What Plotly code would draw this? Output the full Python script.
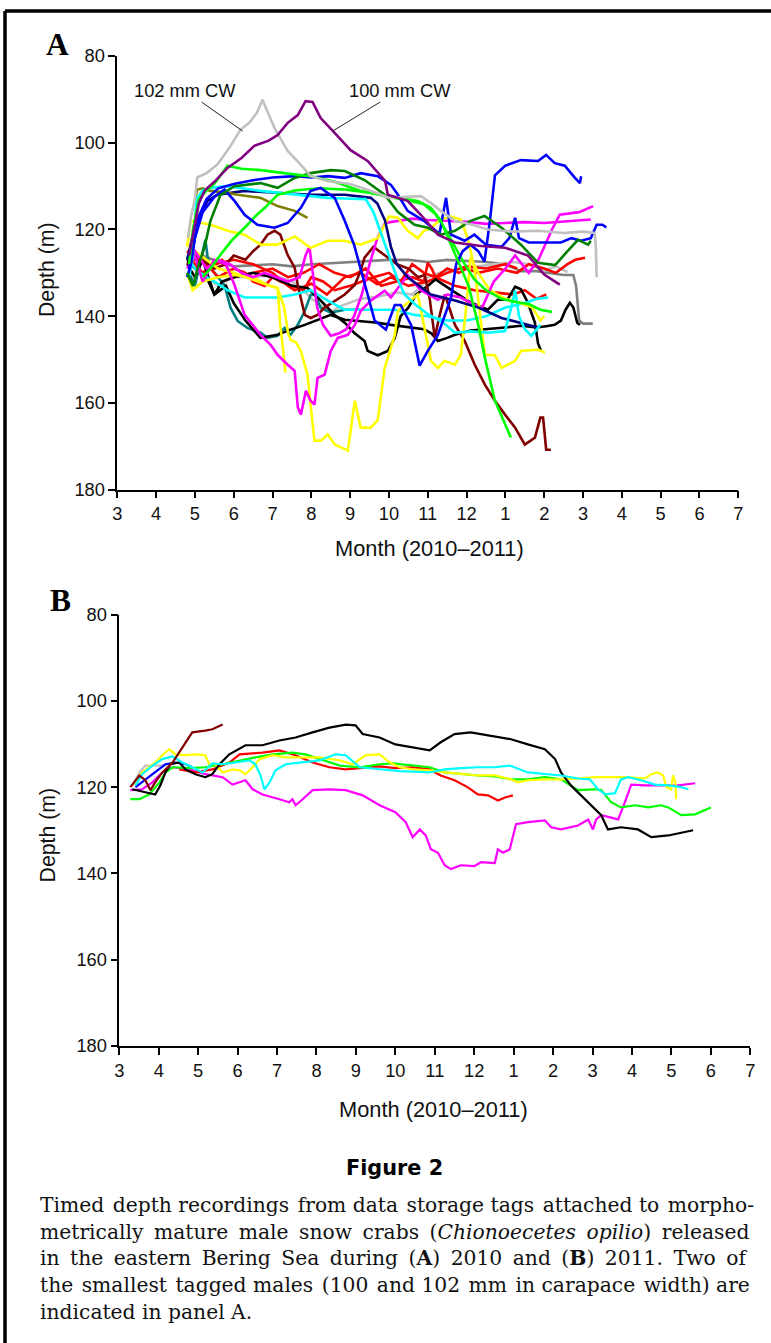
import plotly.graph_objects as go

# ---------------- axis / tick data ----------------
MONTH_TICKS = list(range(3, 20))
MONTH_TICK_LABELS = ["3", "4", "5", "6", "7", "8", "9", "10", "11", "12",
                     "1", "2", "3", "4", "5", "6", "7"]
DEPTH_TICKS = [80, 100, 120, 140, 160, 180]

# ---------------- Panel A (2010) ----------------
A_GRAY102_M = [4.82, 4.9, 5.0, 5.06, 5.3, 5.58, 5.9, 6.17, 6.4, 6.6, 6.74, 6.9, 7.05, 7.39, 7.72, 7.98, 8.42, 9.0, 9.5,
               10.0, 10.5, 10.82, 11.1, 11.33, 11.7, 12.2, 12.55, 13.2, 13.84, 14.5, 15.0, 15.3, 15.33, 15.35]
A_GRAY102_D = [122, 117, 113, 108, 107, 105, 101, 97, 95.4, 93, 90.1, 93.5, 96.6, 101.9, 105, 107.7, 108.8, 109.5, 111,
               112.7, 112.5, 112.3, 114, 115.7, 118, 119, 120, 120.5, 120.3, 120.8, 120.5, 120.8, 124, 131]

A_PURPLE100_M = [4.85, 4.95, 5.1, 5.25, 5.5, 5.84, 6.2, 6.53, 6.9, 7.13, 7.39, 7.65, 7.85, 8.03, 8.24, 8.6, 9.01, 9.45,
                 9.9, 9.97, 10.48, 10.82, 11.26, 11.7, 12.37, 12.99, 13.58, 14.0, 14.2, 14.4]
A_PURPLE100_D = [126, 121, 114, 111, 109, 105.8, 103.5, 100.7, 99.5, 98.2, 95.4, 93.6, 90.4, 90.6, 94.3, 97.7, 101.7,
                 104.2, 108.8, 112, 113.4, 116.6, 121.2, 123, 123.8, 124.2, 126, 130.4, 131.5, 132.7]

A_GREEN1_M = [4.85, 4.95, 5.1, 5.3, 5.5, 5.84, 6.2, 6.69, 7.3, 7.98, 8.6, 9.27, 9.8, 10.23, 10.74, 11.08, 11.34, 11.6,
              11.85, 12.05, 12.3, 12.47, 12.73, 12.95, 13.14]
A_GREEN1_D = [128, 120, 113, 111, 109.5, 105.3, 106, 106.3, 107, 107.7, 109, 111.1, 112, 112.7, 113.4, 115, 118, 123.5,
              128.8, 133, 142, 149.6, 159.5, 164, 168]

A_GREEN2_M = [5.2, 5.4, 5.66, 5.95, 6.28, 6.55, 6.8, 7.13, 7.57, 8.2, 8.9, 9.5, 10.0, 10.5, 10.9, 11.2, 11.45, 11.7,
              11.95, 12.2, 12.5, 12.9, 13.3, 13.6, 13.9, 14.2]
A_GREEN2_D = [131, 129, 125.8, 122.5, 119.6, 117, 115, 112, 111, 110.5, 110.8, 111.5, 112.5, 113.3, 114.2, 116.5, 120,
              124, 128, 131.5, 134, 136, 136.8, 137.2, 138.5, 139]

A_DKGREEN_M = [4.8, 4.95, 5.1, 5.25, 5.4, 5.66, 6.02, 6.69, 7.13, 7.57, 7.98, 8.5, 8.86, 9.37, 9.89, 10.23, 10.66, 11.0,
               11.34, 11.7, 12.1, 12.46, 12.9, 13.4, 13.84, 14.28, 14.6, 14.87, 15.13, 15.2]
A_DKGREEN_D = [130, 133, 128, 124, 118, 112, 110, 109.3, 110.4, 108.1, 107, 106.3, 106.5, 108.6, 112, 116, 118.9, 119.6,
               121.2, 120.3, 118, 116.9, 119.6, 123.5, 127.7, 128.2, 125, 122.4, 123.5, 122.6]

A_BLUE1_M = [4.8, 4.9, 5.0, 5.2, 5.5, 5.76, 6.02, 6.28, 6.61, 7.05, 7.39, 7.73, 7.98, 8.24, 8.6, 8.86, 9.1, 9.27, 9.45,
             9.63, 9.92, 10.15, 10.3, 10.57, 10.79, 11.0, 11.26, 11.6, 11.73, 11.9, 12.1, 12.3, 12.46, 12.6, 12.73,
             12.99, 13.4, 13.84, 14.05, 14.27, 14.53, 14.79, 14.92, 14.95]
A_BLUE1_D = [131, 128, 122, 116, 112.5, 110.8, 113.4, 116.6, 118.9, 119.6, 118.5, 115, 111.1, 110.4, 112.7, 118, 123.5,
             128.8, 135, 141, 143.1, 137.4, 137.4, 142, 151.4, 148, 144.3, 135.7, 128, 125, 123.5, 125, 127.4, 118,
             107.5, 105.3, 104, 104.2, 102.8, 104.7, 105.3, 108.1, 109.3, 107.7]

A_BLUE2_M = [4.85, 4.95, 5.1, 5.3, 5.6, 6.0, 6.53, 7.0, 7.57, 8.0, 8.42, 8.86, 9.27, 9.71, 10.05, 10.23, 10.48, 10.9,
             11.1, 11.3, 11.47, 11.6, 11.95, 12.2, 12.5, 12.9, 13.1, 13.25, 13.35, 13.6, 14.0, 14.43, 14.7, 14.95,
             15.2, 15.35, 15.5, 15.6]
A_BLUE2_D = [129, 124, 117, 113, 110.5, 109.5, 108.6, 108, 107.7, 108, 107.7, 108.1, 107, 107.7, 109.7, 112, 115.7, 118,
             119.6, 121, 112.7, 121.2, 122.6, 121.2, 123.5, 124, 122, 117.3, 122, 123, 123, 123, 122, 122.6, 122,
             118.9, 118.9, 119.5]

A_NAVY_M = [4.8, 4.99, 5.32, 5.58, 6.28, 7.13, 7.98, 8.86, 9.53, 9.7, 9.9, 10.05, 10.2, 10.48, 11.08, 11.7, 12.3, 12.9,
            13.4, 13.84]
A_NAVY_D = [127, 119.6, 113.4, 112, 111.1, 111.5, 112, 112, 112.7, 114, 118, 124, 128, 131, 135, 136.4, 138, 140.4,
            141.5, 142.6]

A_OLIVE_M = [5.0, 5.06, 5.2, 5.4, 5.8, 6.1, 6.69, 7.13, 7.57, 7.9]
A_OLIVE_D = [113, 110.8, 110.5, 111.1, 111.5, 112, 112.7, 114.6, 115.7, 117.3]

A_CYAN1_M = [4.85, 4.95, 5.04, 5.2, 5.4, 5.84, 6.69, 7.57, 8.42, 9.0, 9.4, 9.6, 9.8, 10.0, 10.2, 10.4, 10.7, 11.0,
             11.4, 11.7, 12.1, 12.55, 12.99, 13.15, 13.25, 13.35, 13.5, 13.67, 13.9]
A_CYAN1_D = [131, 126, 113, 111, 110.4, 110, 111.1, 112, 112.7, 112.9, 113, 116, 121, 126, 131, 135, 137.5, 139.5,
             141.5, 143.8, 143.5, 143.8, 143.4, 138, 134.1, 140, 143, 144.5, 142]

A_CYAN2_M = [4.8, 5.0, 5.3, 5.5, 5.84, 6.28, 7.13, 7.57, 7.98, 8.42, 8.86, 9.27, 9.71, 10.15, 10.66, 11.0, 11.5, 12.0,
             12.5, 13.0, 13.5, 13.8, 14.1]
A_CYAN2_D = [126, 129, 131, 132, 134, 135.7, 135.7, 135, 134, 136.4, 138.5, 138.5, 138.5, 138.5, 139.7, 140, 141, 141,
             140, 138, 137, 136, 135.7]

A_YELLOW1_M = [4.8, 4.89, 5.4, 5.84, 6.28, 6.69, 7.13, 7.57, 7.98, 8.42, 8.86, 9.27, 9.71, 10.0, 10.23, 10.48, 10.74,
               10.9, 11.08, 11.34, 11.6, 11.85, 12.03, 12.2, 12.35, 12.47, 12.73, 12.9, 13.25, 13.4, 13.84, 14.02]
A_YELLOW1_D = [124, 118, 118.9, 120.3, 121.2, 123.5, 123.5, 121.6, 124.2, 122.6, 122.6, 123.5, 122, 117, 117.3, 120.3,
               122, 120.3, 119.6, 117.7, 117, 117.7, 122, 128.8, 140, 148.9, 149, 151.9, 150.3, 148, 147.7, 148.4]

A_YELLOW2_M = [4.8, 4.94, 5.2, 5.6, 6.0, 6.5, 6.87, 7.13, 7.3, 7.4, 7.47, 7.6, 7.73, 7.9, 7.98, 8.08, 8.25, 8.42, 8.6,
               8.86, 8.94, 9.12, 9.27, 9.53, 9.71, 9.89, 10.15, 10.23, 10.5, 10.74, 10.9, 11.08, 11.26, 11.43, 11.7,
               11.85, 11.98, 12.1, 12.3, 12.6, 13.0, 13.4, 13.7, 13.9, 14.0]
A_YELLOW2_D = [130, 134, 132, 131, 130.5, 131, 132.8, 133.5, 138, 144, 145.5, 146, 148, 153.5, 160.4, 168.7, 168.7,
               167.3, 169.6, 170.8, 171, 159.5, 165.7, 165.7, 164, 151.9, 144.3, 138.8, 136.8, 135, 142, 150.3, 151.9,
               150.3, 151.2, 148.9, 138.8, 126.5, 130, 134, 136, 137, 138, 141, 140]

A_YELLOW3_M = [4.8, 5.0, 5.3, 5.6, 6.0, 6.3, 6.87, 7.13, 7.2, 7.3, 7.33]
A_YELLOW3_D = [127, 125, 127, 129, 130, 131, 132.8, 133.5, 142, 150, 153]

A_MAGENTA1_M = [4.8, 5.0, 5.2, 5.5, 5.8, 6.02, 6.28, 6.69, 6.95, 7.13, 7.39, 7.57, 7.65, 7.73, 7.86, 7.98, 8.08, 8.16,
                8.34, 8.5, 8.68, 8.94, 9.12, 9.27, 9.53, 9.89, 10.05, 10.3, 10.48, 10.82, 11.26, 11.5, 11.85, 12.2,
                12.4, 12.7, 13.0, 13.25, 13.6, 13.85, 14.2, 14.4, 14.9, 15.26]
A_MAGENTA1_D = [129, 126, 132, 127, 128, 132.8, 139.7, 144.3, 146.6, 148.9, 151.2, 152.6, 161, 162.7, 157.2, 159.5,
                160.4, 154.2, 153.5, 148, 145, 144.3, 142, 138.8, 136.4, 134.1, 135.7, 132.8, 130.5, 134, 136.2, 135,
                135.7, 137.4, 138, 132, 129, 126, 130, 127, 120, 116.6, 116, 114.6]

A_MAGENTA2_M = [4.85, 5.0, 5.3, 5.6, 5.9, 6.2, 6.5, 6.8, 7.1, 7.4, 7.7, 7.85, 7.95, 8.05, 8.15, 8.3, 8.5, 8.7, 8.9, 9.1,
                9.3, 9.5, 9.7, 9.9, 10.2, 10.6, 11.0, 11.5, 12.0, 12.5, 13.0, 13.5, 14.0, 14.5, 15.0, 15.2]
A_MAGENTA2_D = [127, 125, 129, 127, 128, 130, 131, 130, 131, 132, 131, 126, 124, 131, 138, 142, 144.5, 144, 143, 140,
                135, 128, 122, 118.5, 118, 117.5, 117.8, 118, 118.2, 118.7, 118.5, 118.3, 118.5, 118.2, 117.8, 117.7]

A_RED1_M = [4.8, 5.0, 5.3, 5.6, 6.0, 6.3, 6.5, 6.8, 7.0, 7.2, 7.5, 7.8, 8.0, 8.3, 8.6, 9.0, 9.3, 9.6, 10.0, 10.3, 10.6,
            10.9, 11.2, 11.5, 11.8, 12.0, 12.3, 12.8, 13.3, 13.6, 14.0, 14.3, 14.6, 14.8, 15.05]
A_RED1_D = [126, 127, 128, 131, 129, 130, 132, 133, 131, 132, 133, 134, 131, 132, 134, 133, 132, 131, 130, 132, 128,
            130, 131, 129, 130, 129, 130, 129, 130, 128, 129, 130, 128, 127, 126.5]

A_RED2_M = [4.8, 5.0, 5.4, 5.7, 6.0, 6.5, 7.0, 7.4, 7.8, 8.2, 8.6, 9.0, 9.4, 9.8, 10.2, 10.6, 10.9, 11.0, 11.1, 11.2,
            11.7, 12.2, 12.7, 13.2, 13.5, 13.8, 14.05]
A_RED2_D = [125, 126, 129, 127, 131, 130, 129, 131, 130, 128, 130, 131, 129, 133, 132, 131, 132, 127.7, 129, 131, 133,
            134, 134.5, 135, 134, 136, 135]

A_RED3_M = [4.9, 5.2, 5.5, 6.0, 6.5, 7.0, 7.13, 7.4, 7.57, 8.0, 8.4, 8.86, 9.27, 9.7, 10.05, 10.5, 11.0, 11.5, 12.0,
            12.5, 13.0, 13.3]
A_RED3_D = [127, 130, 128, 127, 128, 130, 131, 133, 134, 132.5, 135, 131, 130, 132.6, 131, 133, 132, 130, 128.5, 129,
            128, 129]

A_BROWN_M = [4.8, 5.0, 5.2, 5.5, 5.8, 6.0, 6.3, 6.5, 6.69, 6.87, 7.05, 7.2, 7.39, 7.57, 7.65, 7.73, 7.83, 7.98, 8.16,
             8.34, 8.6, 8.86, 9.12, 9.27, 9.37, 9.6, 9.9, 10.2, 10.5, 10.75, 10.92, 11.05, 11.18, 11.3, 11.44, 11.7,
             11.95, 12.21, 12.47, 12.73, 12.99, 13.25, 13.5, 13.76, 13.9, 13.97, 14.05, 14.17]
A_BROWN_D = [128, 126, 127, 129, 128, 126, 127, 125, 123.5, 121.2, 120.3, 121.2, 125.9, 128.8, 132.8, 135.8, 139.7,
             140.4, 139.7, 138, 136.5, 135, 132.8, 129.5, 126.5, 124, 126, 128, 129, 131, 130.5, 136, 145, 140, 135,
             142, 145.7, 151.2, 155.8, 159.5, 162.7, 165.7, 169.6, 168, 163.4, 163.4, 170.8, 170.8]

A_BLACK1_M = [4.8, 5.0, 5.2, 5.5, 5.8, 6.0, 6.3, 6.69, 7.13, 7.46, 7.83, 8.16, 8.5, 8.86, 9.27, 9.71, 10.05, 10.5,
              10.9, 11.1, 11.26, 11.5, 11.7, 12.1, 12.55, 12.99, 13.4, 13.8, 14.05, 14.27, 14.43, 14.55, 14.66,
              14.75, 14.85, 14.92]
A_BLACK1_D = [128, 131, 127, 135, 133, 137, 141, 145, 144.3, 143.1, 142, 140.8, 139.7, 140.8, 141.1, 141.5, 142,
              142.6, 143, 144, 145.7, 145, 144.3, 143.3, 143, 142.6, 142.2, 142.6, 142.3, 142, 141, 138.5, 136.9,
              138, 141.5, 142]

A_BLACK2_M = [4.8, 5.0, 5.3, 5.5, 5.7, 6.0, 6.5, 7.0, 7.5, 7.9, 8.2, 8.6, 8.86, 9.1, 9.37, 9.45, 9.71, 9.97, 10.15,
              10.3, 10.5, 10.7, 11.0, 11.2, 11.7, 12.1, 12.55, 12.8, 13.05, 13.25, 13.4, 13.58, 13.76, 13.84, 13.92]
A_BLACK2_D = [127, 129, 131, 135, 132, 131, 130, 131, 133, 133.5, 136, 139.7, 141.5, 143.8, 145.7, 148, 149, 148, 145,
              140, 138, 135, 133, 131.5, 134.5, 136.8, 138.5, 136.2, 136.2, 133.2, 133.8, 136.9, 141.5, 146.3, 148]

A_GRAY_M = [4.8, 5.0, 5.2, 5.6, 6.0, 6.5, 7.0, 7.5, 8.0, 8.5, 9.0, 9.5, 10.0, 10.5, 11.0, 11.5, 12.0, 12.5, 13.0,
            13.4, 13.8, 14.2, 14.5, 14.75, 14.82, 14.9, 15.0, 15.25]
A_GRAY_D = [125, 127, 126, 127.5, 128.5, 128.3, 128, 128.5, 128, 127.8, 127.5, 127.2, 127, 127, 127.5, 127, 127.3,
            127.5, 128, 129.6, 129.6, 130.2, 130.5, 130.5, 133, 141, 141.7, 141.7]

A_LTGRAY_M = [4.8, 5.0, 5.3, 5.6, 6.0, 6.5, 7.0, 7.5, 7.8, 8.0, 8.5, 8.8, 9.27, 9.7, 10.2, 10.6, 10.82, 11.0, 11.3,
              11.8, 12.3, 12.8, 13.2, 13.6, 14.0, 14.3, 14.6]
A_LTGRAY_D = [127, 129, 131, 133, 131, 131, 130.5, 132, 134, 136, 139, 137.5, 136, 135.5, 134.5, 135, 133.2, 131, 130,
              129, 128.5, 128, 127.5, 128, 129.5, 128.5, 129.8]

A_TEAL_M = [4.85, 5.0, 5.15, 5.27, 5.35, 5.5, 5.76, 5.92, 6.1, 6.35, 6.69, 6.87, 7.13, 7.31, 7.46, 7.65, 7.83, 7.98,
            8.1, 8.24, 8.5, 8.86, 9.27]
A_TEAL_D = [130, 133, 127, 122.4, 128, 130, 132.8, 138.1, 141.1, 142.7, 143.8, 145, 144.5, 142.7, 144.3, 142, 138.8,
            135.1, 135.1, 138.1, 139.2, 138.5, 138.5]

# ---------------- Panel B (2011) ----------------
B_BLACK_M = [3.33, 3.66, 3.91, 4.04, 4.17, 4.3, 4.52, 4.68, 4.93, 5.18, 5.36, 5.54, 5.79, 6.2, 6.63, 7.06, 7.47, 7.9,
             8.33, 8.74, 8.99, 9.17, 9.6, 10.0, 10.44, 10.87, 11.15, 11.5, 11.91, 12.35, 12.93, 13.36, 13.79, 14.05,
             14.2, 14.45, 14.71, 14.96, 15.22, 15.39, 15.72, 16.15, 16.49, 16.92, 17.25, 17.55]
B_BLACK_D = [120.5, 121.2, 121.7, 119.6, 116.6, 114.7, 114.3, 115.9, 117, 117.7, 117, 114.7, 112.4, 110.3, 110.3,
             109.2, 108.5, 107.3, 106.2, 105.5, 105.7, 107.7, 108.5, 110.1, 110.8, 111.5, 109.6, 107.7, 107.3, 108,
             108.9, 110.1, 111.2, 113.5, 116.6, 119.6, 121.9, 124.2, 126.5, 129.8, 129.3, 129.8, 131.6, 131.2, 130.5,
             130]

B_BROWN_M = [3.28, 3.51, 3.66, 3.79, 3.91, 4.09, 4.35, 4.52, 4.68, 4.85, 5.18, 5.36, 5.62]
B_BROWN_D = [120, 117.3, 118.4, 120.7, 118.9, 116.6, 114.3, 112, 109.6, 107.3, 106.9, 106.6, 105.5]

B_GRAY_M = [3.33, 3.51, 3.66, 4.02, 4.27]
B_GRAY_D = [119.6, 116.6, 115, 115, 114.7]

B_BLUE_M = [3.41, 3.66, 3.91, 4.17, 4.42, 4.68, 4.85]
B_BLUE_D = [120, 118.2, 116.6, 114.7, 114.3, 114.7, 115.4]

B_MAGENTA_M = [3.28, 3.58, 3.84, 4.09, 4.35, 4.78, 5.18, 5.62, 5.87, 6.2, 6.38, 6.63, 7.06, 7.31, 7.39, 7.47, 7.65,
               7.9, 8.33, 8.74, 9.17, 9.6, 10.0, 10.26, 10.44, 10.62, 10.77, 10.9, 11.08, 11.25, 11.41, 11.66, 12.0,
               12.17, 12.52, 12.6, 12.73, 12.9, 13.06, 13.36, 13.79, 13.95, 14.2, 14.63, 14.89, 15.01, 15.09, 15.22,
               15.45, 15.65, 15.82, 15.98, 16.33, 16.74, 17.17, 17.6]
B_MAGENTA_D = [120.7, 120.5, 118.9, 116.6, 115.4, 115.9, 117, 117.7, 119.4, 118.4, 120.5, 121.7, 122.8, 123.5, 122.8,
               124.2, 122.8, 120.7, 120.5, 120.7, 121.9, 124.2, 125.8, 128.1, 131.6, 129.8, 131.2, 134.4, 135.2, 138.1,
               139, 138.1, 138.3, 137.4, 137.6, 134.4, 135.2, 134.4, 128.6, 128.1, 127.7, 129.3, 129.8, 128.9, 127.5,
               129.8, 127.5, 126.5, 127, 127.5, 123.5, 119.4, 119.6, 119.6, 119.6, 119.1]

B_RED_M = [4.52, 4.93, 5.36, 5.79, 6.05, 6.63, 7.06, 7.47, 7.9, 8.33, 8.74, 9.17, 9.6, 10.0, 10.44, 10.87, 11.15, 11.5,
           11.83, 12.09, 12.35, 12.6, 12.78, 12.98]
B_RED_D = [115.9, 116.6, 115.9, 114.3, 112.4, 112, 111.5, 112.6, 114.3, 115.4, 115.9, 115.6, 115.2, 115.6, 115.4,
           115.9, 117.3, 118.4, 120, 121.7, 121.9, 123.1, 122.4, 121.9]

B_YELLOW_M = [3.33, 3.58, 3.91, 4.09, 4.27, 4.42, 4.68, 4.93, 5.18, 5.28, 5.44, 5.62, 5.87, 6.05, 6.2, 6.38, 6.56,
              6.89, 7.22, 7.57, 8.08, 8.59, 8.92, 9.25, 9.6, 9.86, 10.11, 10.44, 10.87, 11.25, 11.66, 12.09, 12.52,
              12.93, 13.11, 13.36, 13.79, 14.2, 14.63, 15.06, 15.47, 15.9, 16.33, 16.49, 16.66, 16.79, 16.87, 16.99,
              17.04, 17.1, 17.12]
B_YELLOW_D = [119.6, 116.6, 114.3, 112.6, 111.2, 112.4, 112.6, 112.4, 112.6, 114.7, 114.7, 116.6, 115.9, 116.1, 117,
              115.4, 113.5, 112.6, 113.1, 113.1, 113.1, 113.8, 114.7, 112.6, 112.4, 114.3, 115.4, 115.9, 116.1, 116.6,
              117, 117.3, 117.3, 118.2, 118.9, 118.4, 118.2, 118.2, 118, 117.7, 117.7, 117.7, 118, 117, 116.6, 117.3,
              120, 120.5, 117.3, 118.9, 122.8]

B_GREEN_M = [3.28, 3.51, 3.76, 4.02, 4.17, 4.35, 4.78, 5.18, 5.62, 6.05, 6.45, 6.89, 7.39, 7.72, 8.08, 8.59, 9.1, 9.6,
             9.93, 10.44, 10.87, 11.25, 11.66, 12.09, 12.52, 12.93, 13.36, 13.79, 14.2, 14.45, 14.63, 15.06, 15.22,
             15.47, 15.72, 16.08, 16.41, 16.74, 16.92, 17.25, 17.6, 18.0]
B_GREEN_D = [122.8, 122.8, 121.7, 118.9, 116.6, 115.4, 115.6, 115.4, 114.7, 113.8, 113.1, 112.4, 112, 112.4, 113.5,
             115, 115.4, 114.7, 114.5, 115, 115.4, 116.6, 117, 117.3, 117.5, 118.2, 118.2, 117.7, 118.2, 119.6, 120.7,
             120.5, 120.7, 123.5, 124.7, 124.2, 124.7, 124.2, 124.7, 126.5, 126.3, 124.7]

B_CYAN_M = [3.41, 3.58, 3.84, 4.09, 4.35, 4.6, 4.85, 5.11, 5.36, 5.62, 5.95, 6.3, 6.45, 6.58, 6.68, 6.81, 6.96, 7.22,
            7.57, 8.08, 8.49, 8.74, 9.1, 9.6, 10.11, 10.87, 11.25, 11.66, 12.09, 12.52, 12.9, 13.36, 13.79, 14.2,
            14.63, 14.93, 15.14, 15.32, 15.57, 15.72, 15.9, 16.23, 16.58, 16.92, 17.25, 17.43]
B_CYAN_D = [119.6, 117, 115, 113.5, 112.9, 114.3, 115.4, 116.6, 114.5, 114.7, 114.3, 113.8, 114.7, 117.3, 120.5,
            118.9, 116.1, 114.7, 114.3, 113.8, 112.4, 112.6, 115.4, 115.9, 116.3, 116.6, 115.9, 115.6, 115.4, 115.4,
            115, 116.6, 117, 117.3, 118, 118.2, 120.5, 121.7, 121.4, 118.2, 117.7, 118.4, 119.4, 119.6, 120, 120.5]

# ---------------- colours ----------------
C = dict(ltgray="#C0C0C0", gray="#808080", purple="#800080", green="#00FF00", dkgreen="#008000",
         blue="#0000FF", navy="#000080", olive="#808000", cyan="#00FFFF", yellow="#FFFF00",
         magenta="#FF00FF", red="#FF0000", brown="#800000", black="#000000", teal="#008080")

A_SERIES = [
    (A_GRAY_M, A_GRAY_D, C["gray"]),
    (A_LTGRAY_M, A_LTGRAY_D, C["ltgray"]),
    (A_TEAL_M, A_TEAL_D, C["teal"]),
    (A_RED2_M, A_RED2_D, C["red"]),
    (A_RED3_M, A_RED3_D, C["red"]),
    (A_RED1_M, A_RED1_D, C["red"]),
    (A_BLACK2_M, A_BLACK2_D, C["black"]),
    (A_BLACK1_M, A_BLACK1_D, C["black"]),
    (A_BROWN_M, A_BROWN_D, C["brown"]),
    (A_CYAN2_M, A_CYAN2_D, C["cyan"]),
    (A_YELLOW3_M, A_YELLOW3_D, C["yellow"]),
    (A_YELLOW2_M, A_YELLOW2_D, C["yellow"]),
    (A_MAGENTA1_M, A_MAGENTA1_D, C["magenta"]),
    (A_MAGENTA2_M, A_MAGENTA2_D, C["magenta"]),
    (A_YELLOW1_M, A_YELLOW1_D, C["yellow"]),
    (A_NAVY_M, A_NAVY_D, C["navy"]),
    (A_OLIVE_M, A_OLIVE_D, C["olive"]),
    (A_CYAN1_M, A_CYAN1_D, C["cyan"]),
    (A_GREEN2_M, A_GREEN2_D, C["green"]),
    (A_BLUE2_M, A_BLUE2_D, C["blue"]),
    (A_BLUE1_M, A_BLUE1_D, C["blue"]),
    (A_DKGREEN_M, A_DKGREEN_D, C["dkgreen"]),
    (A_GREEN1_M, A_GREEN1_D, C["green"]),
    (A_GRAY102_M, A_GRAY102_D, C["ltgray"]),
    (A_PURPLE100_M, A_PURPLE100_D, C["purple"]),
]

B_SERIES = [
    (B_GRAY_M, B_GRAY_D, C["ltgray"]),
    (B_BLUE_M, B_BLUE_D, C["blue"]),
    (B_MAGENTA_M, B_MAGENTA_D, C["magenta"]),
    (B_RED_M, B_RED_D, C["red"]),
    (B_GREEN_M, B_GREEN_D, C["green"]),
    (B_YELLOW_M, B_YELLOW_D, C["yellow"]),
    (B_BLACK_M, B_BLACK_D, C["black"]),
    (B_CYAN_M, B_CYAN_D, C["cyan"]),
    (B_BROWN_M, B_BROWN_D, C["brown"]),
]

# caption lines, with extra thin/hair spaces to emulate the justified setting
HS = "\u200a"   # hair space
TS = "\u2009"   # thin space
CAPTION_WORDS = [
    ("Timed depth recordings from data storage tags attached to morpho-", " " + HS, [0, 2, 4, 6, 8]),
    ("metrically mature male snow crabs (<i>Chionoecetes opilio</i>) released", " " + TS, None),
    ("in the eastern Bering Sea during (<b>A</b>) 2010 and (<b>B</b>) 2011. Two of", " " + TS, None),
    ("the smallest tagged males (100 and 102 mm in carapace width) are", " " + HS, [0, 1, 3, 4, 6, 7, 9]),
    ("indicated in panel A.", " ", None),
]


def justify(text, gap, which):
    words = text.split(" ")
    out = words[0]
    for i, w in enumerate(words[1:]):
        sep = gap if (which is None or i in which) else " "
        out += sep + w
    return out


CAPTION_LINES = [justify(t, g, w) for t, g, w in CAPTION_WORDS]

# ---------------- figure ----------------
# The captured page shows the figure shifted by the 8px body margin and
# shrunk by ~1.45%; positions below are given in target-picture pixels and
# converted to figure pixels with that mapping.
SCALE = 0.9855
BODY = 8
W, H = 775, 1355


def lx(p):
    return p / SCALE - BODY


def ly(p):
    return p / SCALE - BODY


def px_x(p):
    return lx(p) / W


def px_y(p):
    return 1 - ly(p) / H


def fs(size):
    return size / SCALE


fig = go.Figure()

for m, d, col in A_SERIES:
    fig.add_trace(go.Scatter(x=m, y=d, mode="lines", line=dict(color=col, width=2.6),
                             xaxis="x", yaxis="y", hoverinfo="skip", showlegend=False))
for m, d, col in B_SERIES:
    fig.add_trace(go.Scatter(x=m, y=d, mode="lines", line=dict(color=col, width=2.2),
                             xaxis="x2", yaxis="y2", hoverinfo="skip", showlegend=False))

SANS = "Liberation Sans, Arial, sans-serif"
TICKFONT = dict(family=SANS, size=fs(18), color="#111")


def xaxis_cfg(x0, x1, anchor):
    return dict(domain=[px_x(x0), px_x(x1)], range=[3, 19], tickvals=MONTH_TICKS, ticktext=MONTH_TICK_LABELS,
                showline=True, linecolor="black", linewidth=1.6, ticks="outside", ticklen=7, tickwidth=1.5,
                tickcolor="black", showgrid=False, zeroline=False, tickfont=TICKFONT, anchor=anchor)


def yaxis_cfg(y_top, y_bot, anchor):
    return dict(domain=[px_y(y_bot), px_y(y_top)], range=[180, 80], tickvals=DEPTH_TICKS,
                showline=True, linecolor="black", linewidth=1.6, ticks="outside", ticklen=7, tickwidth=1.5,
                tickcolor="black", showgrid=False, zeroline=False, tickfont=TICKFONT, anchor=anchor)


annotations = []
for (xc, yc) in [(432, 546), (436, 1107)]:
    annotations.append(dict(text="Month (2010–2011)", x=px_x(xc), y=px_y(yc), xref="paper", yref="paper",
                            showarrow=False, font=dict(family=SANS, size=fs(21.5), color="#111"),
                            xanchor="center", yanchor="middle"))
for (xc, yc) in [(50, 267), (51, 833)]:
    annotations.append(dict(text="Depth (m)", x=px_x(xc), y=px_y(yc), xref="paper", yref="paper",
                            showarrow=False, textangle=-90, font=dict(family=SANS, size=fs(21), color="#111"),
                            xanchor="center", yanchor="middle"))
for (lbl, xc, yc) in [("A", 60, 41), ("B", 63, 598)]:
    annotations.append(dict(text="<b>%s</b>" % lbl, x=px_x(xc), y=px_y(yc), xref="paper", yref="paper",
                            showarrow=False, font=dict(family="Liberation Serif, Times New Roman, serif",
                                                       size=fs(31), color="black"),
                            xanchor="center", yanchor="middle"))
annotations.append(dict(text="102 mm CW", x=6.23, y=97.3, xref="x", yref="y", ax=-58, ay=-41,
                        showarrow=True, arrowhead=0, arrowwidth=1, arrowcolor="#222",
                        font=dict(family=SANS, size=fs(18), color="#111")))
annotations.append(dict(text="100 mm CW", x=8.55, y=97.3, xref="x", yref="y", ax=67, ay=-41,
                        showarrow=True, arrowhead=0, arrowwidth=1, arrowcolor="#222",
                        font=dict(family=SANS, size=fs(18), color="#111")))
annotations.append(dict(text="<b>Figure 2</b>", x=px_x(397), y=px_y(1166), xref="paper", yref="paper",
                        showarrow=False, font=dict(family="DejaVu Sans, sans-serif", size=fs(20.5), color="black"),
                        xanchor="center", yanchor="middle"))
for i, line in enumerate(CAPTION_LINES):
    annotations.append(dict(text=line, x=px_x(41), y=px_y(1203 + i * 26.8), xref="paper", yref="paper",
                            showarrow=False, font=dict(family="DejaVu Serif, serif", size=fs(20), color="#111"),
                            xanchor="left", yanchor="middle"))

shapes = [
    dict(type="line", xref="paper", yref="paper", x0=0, x1=1.02, y0=1, y1=1,
         line=dict(color="black", width=3.5)),
    dict(type="line", xref="paper", yref="paper", x0=0, x1=0, y0=1, y1=-0.02,
         line=dict(color="black", width=3.5)),
]

fig.update_layout(
    width=W, height=H, margin=dict(l=0, r=0, t=0, b=0),
    paper_bgcolor="white", plot_bgcolor="white", showlegend=False,
    xaxis=xaxis_cfg(120, 740, "y"), yaxis=yaxis_cfg(53, 487, "x"),
    xaxis2=xaxis_cfg(122, 752, "y2"), yaxis2=yaxis_cfg(612, 1044, "x2"),
    annotations=annotations, shapes=shapes,
)

fig.write_html("out.html")
